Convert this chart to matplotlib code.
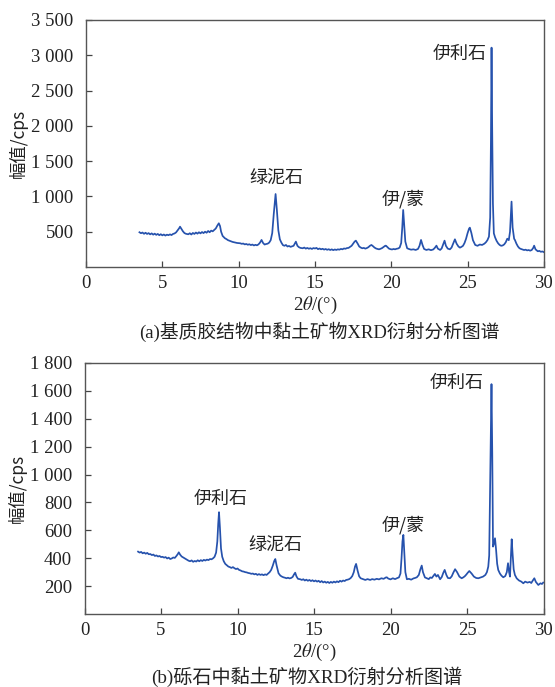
import matplotlib
matplotlib.use('Agg')
import matplotlib.pyplot as plt

plt.rcParams['font.family'] = ['Liberation Serif', 'Noto Sans CJK SC']
plt.rcParams['mathtext.fontset'] = 'stix'

# (a) matrix cement clay minerals
two_theta_a = [3.5, 3.6, 3.7, 3.8, 3.9, 4.0, 4.1, 4.2, 4.3, 4.4, 4.5, 4.6, 4.7, 4.8, 4.9, 5.0,
               5.1, 5.2, 5.3, 5.4, 5.5, 5.6, 5.7, 5.8, 5.9, 6.0, 6.1, 6.16, 6.25, 6.35, 6.45, 6.55,
               6.7, 6.8, 6.9, 7.0, 7.1, 7.2, 7.3, 7.4, 7.5, 7.6, 7.7, 7.8, 7.9, 8.0, 8.1, 8.2,
               8.3, 8.4, 8.5, 8.6, 8.7, 8.78, 8.85, 8.95, 9.1, 9.2, 9.3, 9.4, 9.5, 9.6, 9.7, 9.8,
               9.9, 10.0, 10.1, 10.2, 10.3, 10.4, 10.5, 10.6, 10.7, 10.8, 10.9, 11.0, 11.1, 11.2,
               11.3, 11.4, 11.5, 11.6, 11.7, 11.8, 11.9, 12.0, 12.1, 12.2, 12.3, 12.42, 12.5, 12.6,
               12.7, 12.8, 12.9, 13.0, 13.1, 13.2, 13.3, 13.4, 13.5, 13.6, 13.7, 13.75, 13.85, 13.95,
               14.05, 14.2, 14.3, 14.4, 14.5, 14.6, 14.7, 14.8, 14.9, 15.0, 15.1, 15.2, 15.3, 15.4,
               15.5, 15.6, 15.7, 15.8, 15.9, 16.0, 16.1, 16.2, 16.3, 16.4, 16.5, 16.6, 16.7, 16.8,
               16.9, 17.0, 17.1, 17.2, 17.3, 17.4, 17.5, 17.6, 17.68, 17.8, 17.9, 18.0, 18.1, 18.2,
               18.3, 18.4, 18.5, 18.6, 18.7, 18.8, 18.9, 19.0, 19.1, 19.2, 19.3, 19.4, 19.5, 19.6,
               19.65, 19.75, 19.85, 19.95, 20.05, 20.15, 20.25, 20.35, 20.45, 20.55, 20.65, 20.72,
               20.78, 20.85, 20.92, 21.04, 21.15, 21.3, 21.45, 21.6, 21.75, 21.85, 21.95, 22.05,
               22.15, 22.3, 22.45, 22.6, 22.75, 22.85, 22.96, 23.05, 23.2, 23.3, 23.4, 23.49, 23.58,
               23.7, 23.84, 23.95, 24.05, 24.17, 24.28, 24.4, 24.5, 24.6, 24.7, 24.8, 24.9, 25.0,
               25.1, 25.15, 25.25, 25.35, 25.5, 25.65, 25.8, 25.95, 26.1, 26.2, 26.3, 26.4, 26.48,
               26.53, 26.57, 26.61, 26.66, 26.72, 26.8, 26.9, 27.0, 27.1, 27.2, 27.3, 27.4, 27.5,
               27.6, 27.7, 27.78, 27.88, 27.95, 28.05, 28.1, 28.2, 28.3, 28.4, 28.5, 28.6, 28.7,
               28.8, 28.9, 29.0, 29.1, 29.2, 29.3, 29.36, 29.45, 29.6, 29.7, 29.8, 29.9, 29.98]
counts_a = [492, 478, 488, 470, 485, 468, 480, 462, 476, 458, 472, 455, 468, 450, 464, 448,
            460, 445, 458, 450, 462, 452, 468, 475, 490, 520, 548, 571, 540, 505, 480, 470,
            463, 478, 460, 482, 468, 488, 472, 492, 476, 495, 480, 500, 485, 510, 492, 515,
            505, 525, 545, 585, 619, 580, 500, 440, 407, 395, 380, 372, 365, 355, 350, 345,
            340, 338, 336, 328, 332, 320, 326, 315, 322, 310, 318, 305, 314, 307,
            320, 345, 383, 340, 318, 325, 330, 345, 380, 480, 750, 1034, 820, 520,
            392, 345, 310, 300, 312, 290, 298, 285, 292, 300, 340, 359, 300, 280,
            270, 265, 275, 260, 270, 258, 266, 255, 268, 262, 270, 252, 262, 250,
            258, 246, 255, 243, 252, 240, 250, 238, 248, 241, 250, 245, 256, 250,
            262, 258, 268, 270, 285, 300, 330, 360, 373, 330, 290, 275, 265, 270,
            260, 268, 280, 300, 312, 295, 275, 262, 255, 250, 258, 268, 285, 300,
            302, 280, 260, 252, 248, 255, 250, 258, 262, 275, 340, 560,
            808, 580, 360, 265, 255, 245, 250, 241, 255, 300, 383, 310,
            255, 241, 250, 238, 248, 270, 302, 260, 241, 262, 320, 373, 300,
            260, 250, 275, 330, 392, 330, 290, 274, 285, 300, 340, 400, 480,
            545, 557, 480, 380, 312, 300, 318, 312, 330, 350, 380, 430, 700,
            1800, 3108, 2000, 900, 477, 420, 370, 335, 312, 300, 305, 320, 350,
            401, 380, 500, 926, 560, 400, 383, 330, 290, 265, 255, 248, 240,
            245, 235, 240, 231, 240, 270, 302, 250, 222, 228, 215, 220, 212]

# (b) gravel clay minerals
two_theta_b = [3.5, 3.6, 3.7, 3.8, 3.9, 4.0, 4.1, 4.2, 4.3, 4.4, 4.5, 4.6, 4.7, 4.8, 4.9, 5.0,
               5.1, 5.2, 5.3, 5.4, 5.5, 5.6, 5.7, 5.8, 5.9, 6.0, 6.1, 6.16, 6.25, 6.35, 6.5, 6.6,
               6.7, 6.8, 6.9, 7.0, 7.1, 7.2, 7.3, 7.4, 7.5, 7.6, 7.7, 7.8, 7.9, 8.0, 8.1, 8.2,
               8.3, 8.4, 8.5, 8.6, 8.68, 8.74, 8.79, 8.85, 8.92, 9.0, 9.1, 9.2, 9.3, 9.4, 9.5,
               9.6, 9.7, 9.8, 9.9, 10.0, 10.1, 10.2, 10.3, 10.4, 10.5, 10.6, 10.7, 10.8, 10.9,
               11.0, 11.1, 11.2, 11.3, 11.4, 11.5, 11.6, 11.7, 11.8, 11.9, 12.0, 12.1, 12.2, 12.3,
               12.4, 12.47, 12.55, 12.68, 12.8, 12.9, 13.0, 13.1, 13.2, 13.3, 13.4, 13.5, 13.6,
               13.7, 13.77, 13.85, 13.95, 14.1, 14.2, 14.3, 14.4, 14.5, 14.6, 14.7, 14.8, 14.9,
               15.0, 15.1, 15.2, 15.3, 15.4, 15.5, 15.6, 15.7, 15.8, 15.9, 16.0, 16.1, 16.2, 16.3,
               16.4, 16.5, 16.6, 16.7, 16.8, 16.9, 17.0, 17.1, 17.2, 17.3, 17.4, 17.5, 17.6,
               17.68, 17.75, 17.85, 17.95, 18.05, 18.2, 18.35, 18.5, 18.67, 18.8, 18.95, 19.1,
               19.25, 19.4, 19.55, 19.7, 19.76, 19.85, 20.0, 20.15, 20.3, 20.45, 20.55, 20.65,
               20.72, 20.78, 20.84, 20.9, 20.97, 21.07, 21.2, 21.35, 21.5, 21.6, 21.72, 21.85,
               21.95, 22.04, 22.12, 22.25, 22.37, 22.5, 22.6, 22.7, 22.8, 22.9, 23.0, 23.1, 23.24,
               23.35, 23.45, 23.54, 23.65, 23.75, 23.89, 24.0, 24.1, 24.22, 24.35, 24.5, 24.65,
               24.75, 24.85, 24.95, 25.05, 25.15, 25.3, 25.45, 25.6, 25.74, 25.9, 26.05, 26.2,
               26.3, 26.39, 26.45, 26.5, 26.56, 26.6, 26.65, 26.7, 26.75, 26.83, 26.9, 26.97,
               27.04, 27.15, 27.25, 27.37, 27.5, 27.6, 27.68, 27.75, 27.81, 27.87, 27.92, 27.98,
               28.05, 28.13, 28.25, 28.4, 28.55, 28.68, 28.8, 28.95, 29.1, 29.2, 29.3, 29.4,
               29.5, 29.66, 29.8, 29.9, 29.98]
counts_b = [447, 440, 445, 435, 440, 432, 438, 428, 430, 422, 426, 416, 420, 412, 416, 408,
            410, 404, 408, 398, 404, 394, 398, 405, 402, 415, 430, 442, 425, 412, 402, 395,
            388, 382, 378, 384, 374, 380, 376, 385, 378, 386, 380, 388, 383, 390, 386, 394,
            392, 399, 410, 440, 520, 650, 730, 620, 470, 410, 378, 359, 350, 340, 336,
            330, 336, 328, 322, 326, 316, 312, 306, 304, 300, 298, 294, 292, 288,
            290, 284, 288, 280, 286, 280, 284, 278, 284, 280, 290, 300, 316, 345,
            380, 394, 350, 292, 275, 268, 263, 260, 256, 260, 255, 258, 265,
            285, 296, 270, 252, 249, 244, 249, 240, 246, 238, 244, 236, 242,
            234, 240, 232, 238, 228, 236, 226, 232, 224, 230, 222, 230, 224, 232,
            226, 234, 228, 238, 232, 240, 236, 244, 246, 250, 258, 272, 300,
            340, 359, 310, 270, 256, 250, 244, 250, 244, 250, 246, 252,
            248, 256, 252, 262, 263, 254, 248, 256, 250, 258, 262, 290,
            400, 520, 567, 450, 300, 249, 252, 246, 255, 258, 263, 280,
            320, 347, 300, 262, 256, 250, 262, 258, 272, 287, 268, 280, 249,
            265, 295, 316, 280, 258, 256, 270, 295, 321, 300, 268, 256,
            262, 270, 282, 296, 308, 290, 268, 258, 256, 262, 268, 280,
            300, 340, 420, 818, 1300, 1648, 1150, 483, 500, 543, 460, 360,
            316, 290, 275, 263, 272, 300, 364, 300, 268, 420, 536, 430,
            320, 280, 255, 240, 232, 220, 232, 225, 230, 222, 240, 256,
            230, 208, 220, 215, 225]

yticks_a = [500, 1000, 1500, 2000, 2500, 3000, 3500]
yticklabels_a = ['500', '1 000', '1 500', '2 000', '2 500', '3 000', '3 500']
yticks_b = [200, 400, 600, 800, 1000, 1200, 1400, 1600, 1800]
yticklabels_b = ['200', '400', '600', '800', '1 000', '1 200', '1 400', '1 600', '1 800']
xticks = [0, 5, 10, 15, 20, 25, 30]

line_color = '#2652ad'
cjk = ['Noto Sans CJK SC', 'DejaVu Sans']

fig = plt.figure(figsize=(5.55, 6.87), dpi=100)
ax1 = fig.add_axes([0.155, 0.6114, 0.825, 0.3595])
ax2 = fig.add_axes([0.1523, 0.1063, 0.827, 0.3654])


def style(ax, yticks, ylabels, ymax, label_x):
    ax.set_xlim(0, 30)
    ax.set_ylim(0, ymax)
    ax.set_xticks(xticks)
    ax.set_xticklabels([str(t) for t in xticks])
    ax.set_yticks(yticks)
    ax.set_yticklabels(ylabels)
    ax.tick_params(direction='in', length=4, width=0.9, color='#444444',
                   labelsize=13.5, labelcolor='#222222')
    ax.tick_params(axis='x', pad=6)
    ax.tick_params(axis='y', pad=9)
    for s in ax.spines.values():
        s.set_color('#555555')
        s.set_linewidth(1.0)
    ax.set_xlabel(r'2$\theta$/(°)', fontsize=13.5, color='#222222', labelpad=2)
    ax.set_ylabel('幅值/cps', fontsize=12.5, family=cjk, color='#222222')
    ax.yaxis.set_label_coords(label_x, 0.5)


ax1.plot(two_theta_a, counts_a, color=line_color, linewidth=1.25)
style(ax1, yticks_a, yticklabels_a, 3500, -0.128)
ax1.text(12.5, 1243, '绿泥石', fontsize=13, family=cjk, ha='center', va='center', color='#222222')
ax1.text(20.8, 960, '伊/蒙', fontsize=13, family=cjk, ha='center', va='center', color='#222222')
ax1.text(26.25, 3014, '伊利石', fontsize=13, family=cjk, ha='right', va='center', color='#222222')
fig.text(0.575, 0.517, '(a)基质胶结物中黏土矿物XRD衍射分析图谱', fontsize=13.5,
         ha='center', va='center', color='#222222')

ax2.plot(two_theta_b, counts_b, color=line_color, linewidth=1.25)
style(ax2, yticks_b, yticklabels_b, 1800, -0.125)
ax2.text(8.92, 823, '伊利石', fontsize=13, family=cjk, ha='center', va='center', color='#222222')
ax2.text(12.47, 488, '绿泥石', fontsize=13, family=cjk, ha='center', va='center', color='#222222')
ax2.text(20.84, 638, '伊/蒙', fontsize=13, family=cjk, ha='center', va='center', color='#222222')
ax2.text(26.1, 1655, '伊利石', fontsize=13, family=cjk, ha='right', va='center', color='#222222')
fig.text(0.553, 0.015, '(b)砾石中黏土矿物XRD衍射分析图谱', fontsize=13.8,
         ha='center', va='center', color='#222222')

fig.savefig('out.png', dpi=100)
